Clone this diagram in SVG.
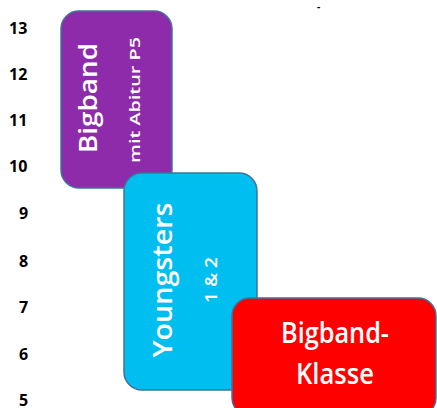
<svg xmlns="http://www.w3.org/2000/svg" width="437" height="408" viewBox="0 0 437 408">
<style>
.num{font-family:"Open Sans","Liberation Sans",sans-serif;font-weight:bold;font-size:16px;fill:#000}
.box{stroke:#41719C;stroke-width:1.5}
.t{font-family:"Open Sans","Liberation Sans",sans-serif;font-weight:600;fill:#fff;text-anchor:middle}
</style>
<rect width="437" height="408" fill="#fff"/>
<g id="axis">
<text class="num" x="9" y="34">13</text>
<text class="num" x="9" y="80">12</text>
<text class="num" x="9" y="126">11</text>
<text class="num" x="9" y="172">10</text>
<text class="num" x="19" y="219">9</text>
<text class="num" x="19" y="267">8</text>
<text class="num" x="19" y="313">7</text>
<text class="num" x="19" y="360">6</text>
<text class="num" x="19" y="406">5</text>
<text class="num" x="317" y="10" style="font-size:10px">-</text>
</g>
<g id="connectors"></g>
<g id="bigband">
<rect class="box" x="61" y="11" width="111" height="177" rx="18" fill="#8E2BAB"/>
<text class="t" transform="translate(97,98) rotate(-90)" font-size="25" textLength="110" lengthAdjust="spacingAndGlyphs">Bigband</text>
<text class="t" transform="translate(140,100) rotate(-90)" font-size="14" textLength="126" lengthAdjust="spacingAndGlyphs">mit Abitur P5</text>
</g>
<g id="youngsters">
<rect class="box" x="124" y="173" width="133" height="217" rx="18" fill="#00BFF0"/>
<text class="t" transform="translate(172,280) rotate(-90)" font-size="27" textLength="155" lengthAdjust="spacingAndGlyphs">Youngsters</text>
<text class="t" transform="translate(217,280) rotate(-90)" font-size="16" textLength="46" lengthAdjust="spacingAndGlyphs">1 &amp; 2</text>
</g>
<g id="bigband-klasse">
<rect class="box" x="232" y="298" width="204" height="118" rx="18" fill="#FF0000"/>
<text class="t" x="335" y="343" font-size="28" textLength="108" lengthAdjust="spacingAndGlyphs">Bigband-</text>
<text class="t" x="335" y="384" font-size="28" textLength="78" lengthAdjust="spacingAndGlyphs">Klasse</text>
</g>
</svg>
